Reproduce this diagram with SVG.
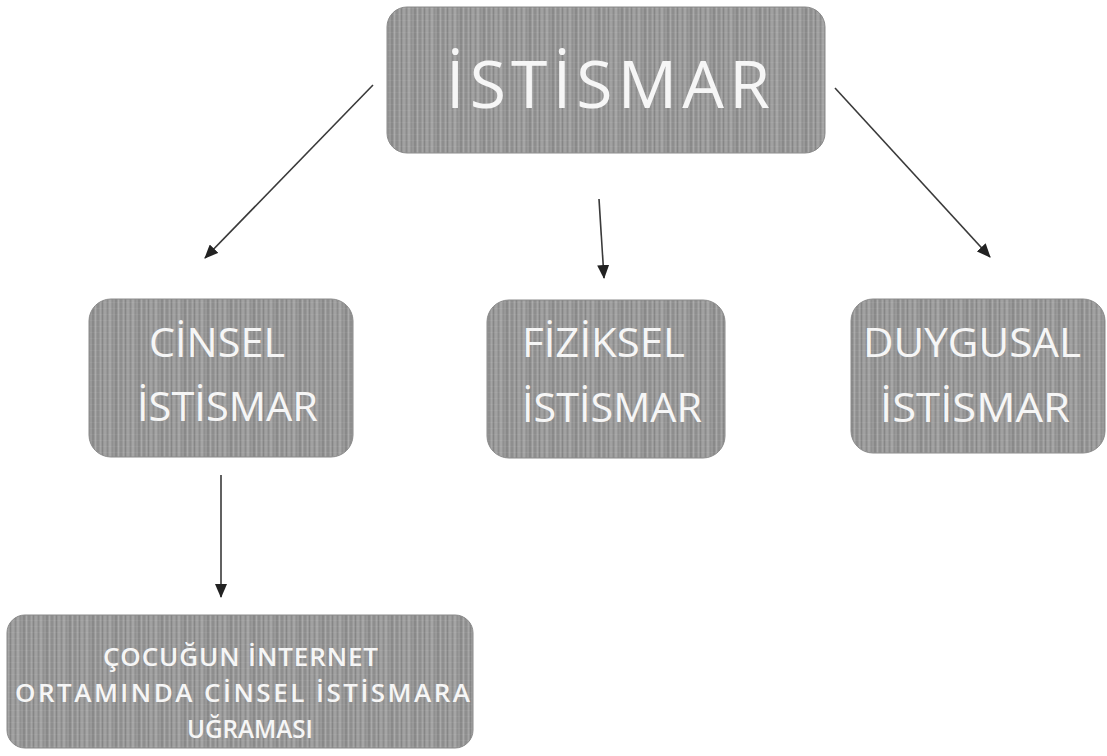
<svg xmlns="http://www.w3.org/2000/svg" width="1107" height="756" viewBox="0 0 1107 756">
  <defs>
    <pattern id="scan" x="0" y="0" width="23" height="6" patternUnits="userSpaceOnUse">
      <rect x="0" y="0" width="23" height="6" fill="#989898"/>
      <rect x="0" y="0" width="2" height="6" fill="#898989"/>
      <rect x="3" y="0" width="1" height="6" fill="#a8a8a8"/>
      <rect x="5" y="0" width="2" height="6" fill="#8e8e8e"/>
      <rect x="8" y="0" width="1" height="6" fill="#a4a4a4"/>
      <rect x="10" y="0" width="1" height="6" fill="#868686"/>
      <rect x="12" y="0" width="2" height="6" fill="#a1a1a1"/>
      <rect x="15" y="0" width="1" height="6" fill="#8c8c8c"/>
      <rect x="17" y="0" width="2" height="6" fill="#a5a5a5"/>
      <rect x="20" y="0" width="1" height="6" fill="#909090"/>
      <rect x="0" y="2" width="23" height="1" fill="#ffffff" fill-opacity="0.05"/>
    </pattern>
    <marker id="arrow" viewBox="0 0 14 12" refX="13" refY="6" markerWidth="14" markerHeight="12" orient="auto" markerUnits="userSpaceOnUse">
      <path d="M0,0 L14,6 L0,12 z" fill="#222222"/>
    </marker>
  </defs>
  <style>
    .box { fill: url(#scan); stroke: #8a8a8a; stroke-width: 1; }
    .lbl { font-family: "Open Sans", "Noto Sans", "DejaVu Sans", sans-serif; fill: #f6f6f6; font-weight: 500; }
    .big { font-size: 66px; }
    .mid { font-size: 41px; }
    .sm { font-size: 26px; font-weight: 600; }
    .conn { stroke: #3a3a3a; stroke-width: 1.6; fill: none; marker-end: url(#arrow); }
  </style>
  <rect x="0" y="0" width="1107" height="756" fill="#ffffff"/>

  <g id="connectors">
    <line class="conn" x1="373" y1="85" x2="205" y2="258"/>
    <line class="conn" x1="599" y1="199" x2="604" y2="278"/>
    <line class="conn" x1="835" y1="88" x2="990" y2="257"/>
    <line class="conn" x1="221" y1="475" x2="221" y2="597"/>
  </g>

  <g id="istismar">
    <rect class="box" x="387" y="7" width="438" height="146" rx="20" ry="20"/>
    <text class="lbl big" x="446" y="108" textLength="324" lengthAdjust="spacing">İSTİSMAR</text>
  </g>

  <g id="cinsel">
    <rect class="box" x="89" y="299" width="264" height="158" rx="22" ry="22"/>
    <text class="lbl mid" x="149" y="357" textLength="136" lengthAdjust="spacingAndGlyphs">CİNSEL</text>
    <text class="lbl mid" x="137" y="421" textLength="181" lengthAdjust="spacingAndGlyphs">İSTİSMAR</text>
  </g>

  <g id="fiziksel">
    <rect class="box" x="487" y="300" width="238" height="158" rx="22" ry="22"/>
    <text class="lbl mid" x="522" y="357" textLength="163" lengthAdjust="spacingAndGlyphs">FİZİKSEL</text>
    <text class="lbl mid" x="522" y="422" textLength="180" lengthAdjust="spacingAndGlyphs">İSTİSMAR</text>
  </g>

  <g id="duygusal">
    <rect class="box" x="851" y="299" width="254" height="154" rx="22" ry="22"/>
    <text class="lbl mid" x="863" y="357" textLength="218" lengthAdjust="spacingAndGlyphs">DUYGUSAL</text>
    <text class="lbl mid" x="880" y="422" textLength="190" lengthAdjust="spacingAndGlyphs">İSTİSMAR</text>
  </g>

  <g id="internet">
    <rect class="box" x="7" y="615" width="466" height="133" rx="18" ry="18"/>
    <text class="lbl sm" x="103" y="666" textLength="275" lengthAdjust="spacing">ÇOCUĞUN İNTERNET</text>
    <text class="lbl sm" x="15" y="702" textLength="455" lengthAdjust="spacing">ORTAMINDA CİNSEL İSTİSMARA</text>
    <text class="lbl sm" x="187" y="738" textLength="126" lengthAdjust="spacingAndGlyphs">UĞRAMASI</text>
  </g>
</svg>
